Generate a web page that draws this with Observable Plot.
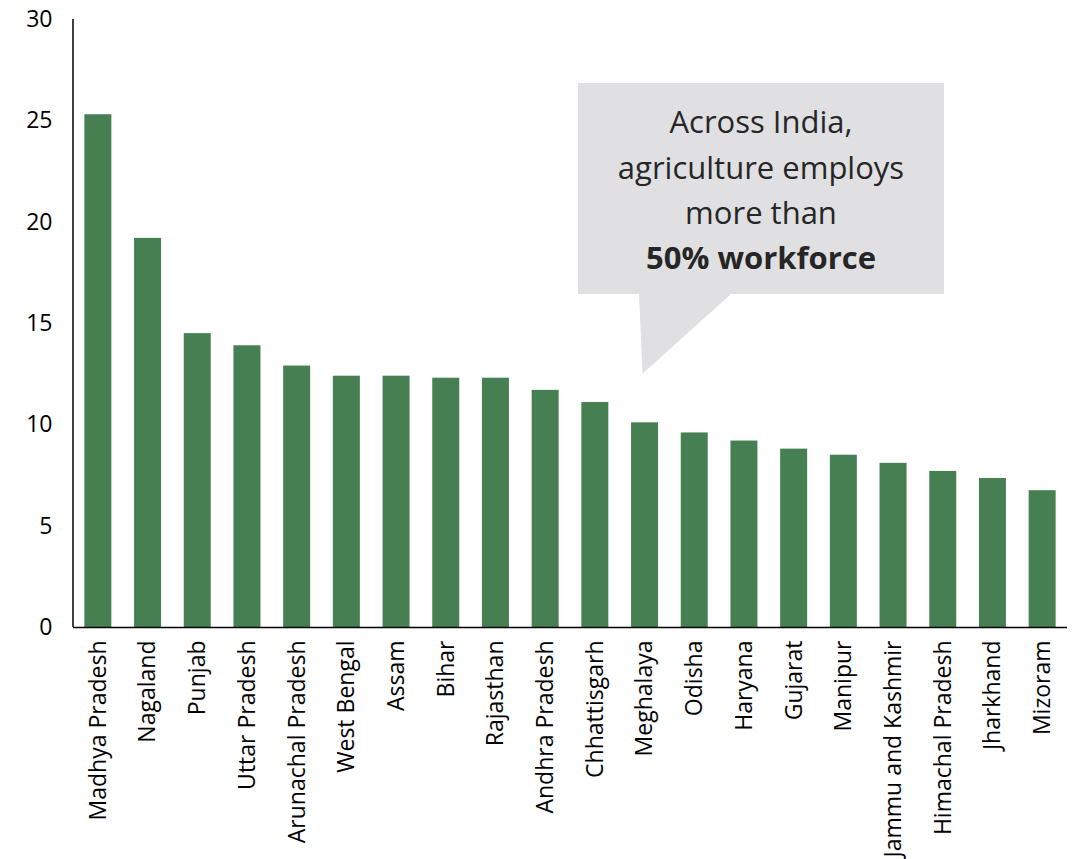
<!DOCTYPE html>
<html>
<head>
<meta charset="utf-8">
<script src="https://cdn.jsdelivr.net/npm/d3@7"></script>
<script src="https://cdn.jsdelivr.net/npm/@observablehq/plot@0.6"></script>
<style>
  html, body { margin: 0; padding: 0; background: #fff; }
  #chart { position: relative; width: 1076px; height: 859px; }
</style>
</head>
<body>
<div id="chart"></div>
<script>
const states = [
  "Madhya Pradesh", "Nagaland", "Punjab", "Uttar Pradesh", "Arunachal Pradesh",
  "West Bengal", "Assam", "Bihar", "Rajasthan", "Andhra Pradesh",
  "Chhattisgarh", "Meghalaya", "Odisha", "Haryana", "Gujarat",
  "Manipur", "Jammu and Kashmir", "Himachal Pradesh", "Jharkhand", "Mizoram"
];
const values = [
  25.3, 19.2, 14.5, 13.9, 12.9,
  12.4, 12.4, 12.3, 12.3, 11.7,
  11.1, 10.1, 9.6, 9.2, 8.8,
  8.5, 8.1, 7.7, 7.35, 6.75
];
const yTicks = [0, 5, 10, 15, 20, 25, 30];
const calloutLines = ["Across India,", "agriculture employs", "more than", "50% workforce"];

const data = states.map((s, i) => ({state: s, value: values[i]}));

const chart = Plot.plot({
  width: 1076,
  height: 859,
  marginLeft: 73,
  marginRight: 9,
  marginTop: 19,
  marginBottom: 232,
  style: {fontFamily: "'Open Sans', sans-serif", fontSize: "23px", color: "#000", background: "#fff", overflow: "visible"},
  x: {domain: states, paddingInner: 0.457, paddingOuter: 0.2285, round: false, label: null},
  y: {domain: [0, 30], label: null},
  marks: [
    Plot.barY(data, {x: "state", y: "value", fill: "#467f51"}),
    Plot.ruleY([0], {stroke: "#000", strokeWidth: 1.5}),
    Plot.axisY({ticks: yTicks, tickSize: 0, tickPadding: 21, label: null, fontSize: 23}),
    Plot.axisX({tickSize: 0, tickPadding: 13, tickRotate: -90, label: null, fontSize: 23})
  ]
});

document.getElementById("chart").appendChild(chart);

// y axis line
const svg = d3.select(chart);
const ys = chart.scale("y");
const xs = chart.scale("x");
svg.append("line")
  .attr("x1", 73).attr("x2", 73)
  .attr("y1", ys.apply(30)).attr("y2", ys.apply(0))
  .attr("stroke", "#000").attr("stroke-width", 1.5);

// callout bubble
const anchorX = xs.apply("Meghalaya") + xs.bandwidth / 2 - 2;
const anchorY = ys.apply(12.5);
const box = {x0: 578, x1: 944, y0: 83, y1: 294};
const g = svg.append("g");
g.append("path")
  .attr("d", `M${box.x0},${box.y0}H${box.x1}V${box.y1}H731L${anchorX},${anchorY}L639,${box.y1}H${box.x0}Z`)
  .attr("fill", "#e0e0e2");
const cx = (box.x0 + box.x1) / 2;
const baselines = [133, 179, 224, 269];
calloutLines.forEach((t, i) => {
  g.append("text")
    .attr("x", cx).attr("y", baselines[i])
    .attr("text-anchor", "middle")
    .attr("font-family", "'Open Sans', sans-serif")
    .attr("font-size", 31)
    .attr("font-weight", i === 3 ? 700 : 400)
    .attr("fill", "#262626")
    .text(t);
});
</script>
</body>
</html>
